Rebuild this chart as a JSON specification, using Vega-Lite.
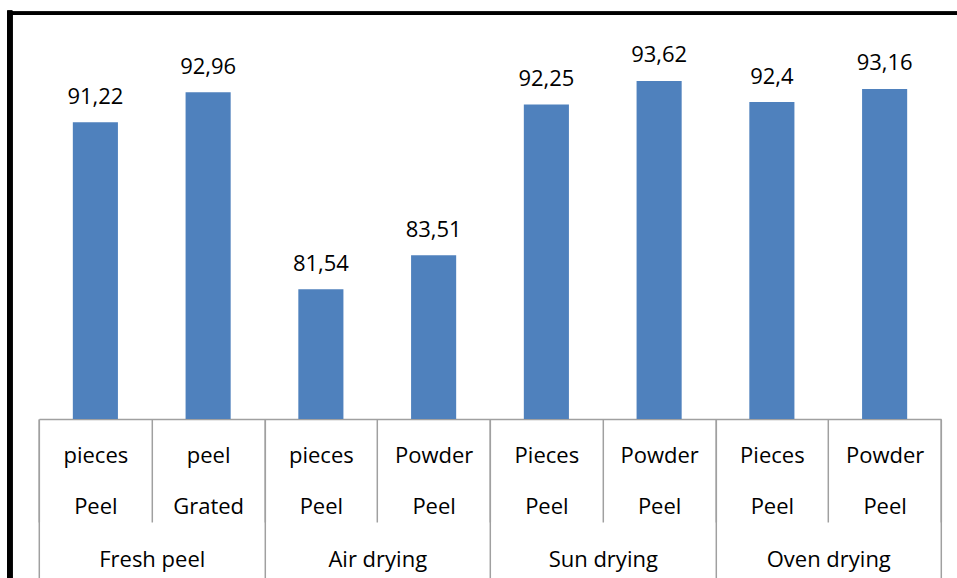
{
  "$schema": "https://vega.github.io/schema/vega-lite/v6.json",
  "width": 947.2,
  "height": 564.8,
  "autosize": "none",
  "padding": {"left": 9.8, "top": 13.2, "right": 0, "bottom": 0},
  "background": "white",
  "config": {
    "view": {"stroke": null},
    "font": "Open Sans",
    "locale": {"number": {"decimal": ",", "thousands": ".", "grouping": [3], "currency": ["", " €"]}}
  },
  "data": {
    "values": [
      {"item": "Fresh peel|pieces|Peel", "group": "Fresh peel", "value": 91.22},
      {"item": "Fresh peel|peel|Grated", "group": "Fresh peel", "value": 92.96},
      {"item": "Air drying|pieces|Peel", "group": "Air drying", "value": 81.54},
      {"item": "Air drying|Powder|Peel", "group": "Air drying", "value": 83.51},
      {"item": "Sun drying|Pieces|Peel", "group": "Sun drying", "value": 92.25},
      {"item": "Sun drying|Powder|Peel", "group": "Sun drying", "value": 93.62},
      {"item": "Oven drying|Pieces|Peel", "group": "Oven drying", "value": 92.4},
      {"item": "Oven drying|Powder|Peel", "group": "Oven drying", "value": 93.16}
    ]
  },
  "resolve": {"scale": {"x": "independent"}, "axis": {"x": "independent"}},
  "layer": [
    {
      "mark": {"type": "bar", "color": "#4f81bd", "width": {"band": 0.4}},
      "encoding": {
        "x": {
          "field": "item", "type": "nominal", "sort": null,
          "scale": {"range": [29.2, 931.2], "paddingInner": 0, "paddingOuter": 0},
          "axis": {
            "orient": "bottom", "offset": -159, "title": null, "grid": false,
            "domainColor": "#a0a0a0", "domainWidth": 1.5,
            "tickColor": "#a0a0a0", "tickWidth": 1.5, "tickBand": "extent", "tickSize": 103,
            "labelExpr": "slice(split(datum.value, '|'), 1)",
            "labelFont": "Open Sans", "labelFontSize": 22, "labelColor": "black",
            "labelBaseline": "alphabetic", "labelLineHeight": 51, "labelPadding": -60,
            "labelAngle": 0, "labelOverlap": false, "labelLimit": 0
          }
        },
        "y": {
          "field": "value", "type": "quantitative",
          "scale": {"domain": [64.8, 97.55], "nice": false, "zero": false},
          "axis": null
        },
        "y2": {"datum": 74.02}
      }
    },
    {
      "mark": {"type": "text", "font": "Open Sans", "fontSize": 22, "color": "black", "baseline": "alphabetic", "dy": -18.5},
      "encoding": {
        "x": {"field": "item", "type": "nominal", "sort": null,
              "scale": {"range": [29.2, 931.2], "paddingInner": 0, "paddingOuter": 0}, "axis": null},
        "y": {"field": "value", "type": "quantitative",
              "scale": {"domain": [64.8, 97.55], "nice": false, "zero": false}, "axis": null},
        "text": {"field": "value", "type": "quantitative", "format": ".2~f"}
      }
    },
    {
      "mark": {"type": "rule", "color": "black", "strokeWidth": 3, "strokeCap": "square"},
      "encoding": {
        "x": {"datum": 0, "type": "quantitative", "scale": {"domain": [0, 1], "nice": false, "zero": false}, "axis": null},
        "x2": {"datum": 1},
        "y": {"datum": 97.55, "type": "quantitative",
              "scale": {"domain": [64.8, 97.55], "nice": false, "zero": false}, "axis": null}
      }
    },
    {
      "mark": {"type": "rule", "color": "black", "strokeWidth": 5, "strokeCap": "square"},
      "encoding": {
        "x": {"datum": 0, "type": "quantitative", "scale": {"domain": [0, 1], "nice": false, "zero": false}, "axis": null},
        "y": {"datum": 97.55, "type": "quantitative",
              "scale": {"domain": [64.8, 97.55], "nice": false, "zero": false}, "axis": null},
        "y2": {"datum": 64.8}
      }
    },
    {
      "mark": {"type": "point", "opacity": 0},
      "encoding": {
        "x": {
          "field": "group", "type": "nominal", "sort": null,
          "scale": {"range": [29.2, 931.2], "paddingInner": 0, "paddingOuter": 0},
          "axis": {
            "orient": "bottom", "offset": -159, "title": null, "grid": false, "domain": false,
            "tickColor": "#a0a0a0", "tickWidth": 1.5, "tickBand": "extent", "tickSize": 160,
            "labelFont": "Open Sans", "labelFontSize": 22, "labelColor": "black",
            "labelBaseline": "alphabetic", "labelPadding": -13,
            "labelAngle": 0, "labelOverlap": false, "labelLimit": 0
          }
        },
        "y": {"field": "value", "type": "quantitative",
              "scale": {"domain": [64.8, 97.55], "nice": false, "zero": false}, "axis": null}
      }
    }
  ]
}
